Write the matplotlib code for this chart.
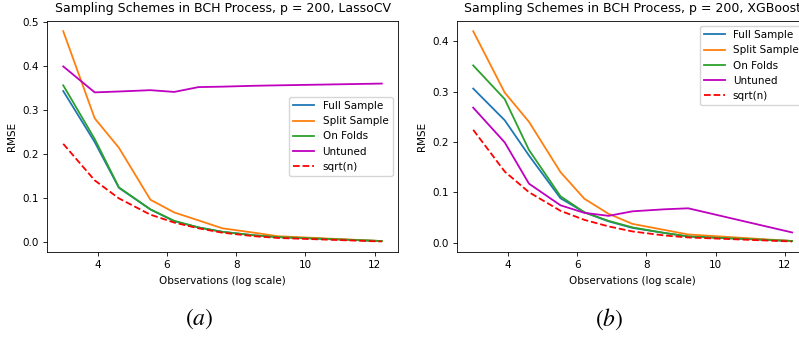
import matplotlib
matplotlib.use('Agg')
import matplotlib.pyplot as plt

plt.rcParams['font.size'] = 7.5
plt.rcParams['mathtext.fontset'] = 'stix'

# log(n) of the sample sizes
logn = [3.00, 3.91, 4.61, 5.52, 6.21, 6.91, 7.60, 8.52, 9.21, 12.21]
labels = ['Full Sample', 'Split Sample', 'On Folds', 'Untuned', 'sqrt(n)']

# LassoCV panel
lasso_full = [0.344, 0.228, 0.124, 0.075, 0.048, 0.034, 0.024, 0.016, 0.012, 0.003]
lasso_split = [0.480, 0.282, 0.215, 0.097, 0.068, 0.050, 0.032, 0.022, 0.014, 0.003]
lasso_folds = [0.357, 0.235, 0.125, 0.075, 0.049, 0.034, 0.024, 0.016, 0.012, 0.003]
lasso_untuned = [0.400, 0.341, 0.343, 0.346, 0.342, 0.353, 0.354, 0.356, 0.357, 0.361]

# XGBoost panel
xgb_full = [0.306, 0.243, 0.173, 0.088, 0.060, 0.042, 0.029, 0.019, 0.012, 0.003]
xgb_split = [0.420, 0.298, 0.240, 0.140, 0.087, 0.057, 0.037, 0.025, 0.016, 0.003]
xgb_folds = [0.352, 0.285, 0.184, 0.092, 0.060, 0.043, 0.030, 0.019, 0.012, 0.003]
xgb_untuned = [0.268, 0.199, 0.117, 0.074, 0.059, 0.053, 0.062, 0.066, 0.068, 0.020]

# 1/sqrt(n) reference
root_n = [0.224, 0.141, 0.100, 0.063, 0.045, 0.032, 0.022, 0.014, 0.010, 0.002]

titles = ['Sampling Schemes in BCH Process, p = 200, LassoCV',
          'Sampling Schemes in BCH Process, p = 200, XGBoost']

fig = plt.figure(figsize=(7.99, 3.39), dpi=100)
ax1 = fig.add_axes([0.0592, 0.2566, 0.4386, 0.6823])
ax2 = fig.add_axes([0.5723, 0.2566, 0.4390, 0.6823])

lw = 1.3
for ax, full, split, folds, untuned, title, loc in [
        (ax1, lasso_full, lasso_split, lasso_folds, lasso_untuned, titles[0], 'center right'),
        (ax2, xgb_full, xgb_split, xgb_folds, xgb_untuned, titles[1], 'upper right')]:
    ax.plot(logn, full, color='C0', lw=lw, label=labels[0])
    ax.plot(logn, split, color='C1', lw=lw, label=labels[1])
    ax.plot(logn, folds, color='C2', lw=lw, label=labels[2])
    ax.plot(logn, untuned, color='m', lw=lw, label=labels[3])
    ax.plot(logn, root_n, 'r--', lw=lw, label=labels[4])
    ax.set_title(title, fontsize=9)
    ax.set_xlabel('Observations (log scale)')
    ax.set_ylabel('RMSE')
    ax.set_xticks([4, 6, 8, 10, 12])
    ax.tick_params(length=2.6, width=0.6)
    for s in ax.spines.values():
        s.set_linewidth(0.6)
    ax.legend(loc=loc)

fig.text(199 / 799, 1 - 319 / 339, '$(a)$', fontsize=17, ha='center', va='center')
fig.text(609 / 799, 1 - 319 / 339, '$(b)$', fontsize=17, ha='center', va='center')

fig.savefig('out.png', dpi=100)
